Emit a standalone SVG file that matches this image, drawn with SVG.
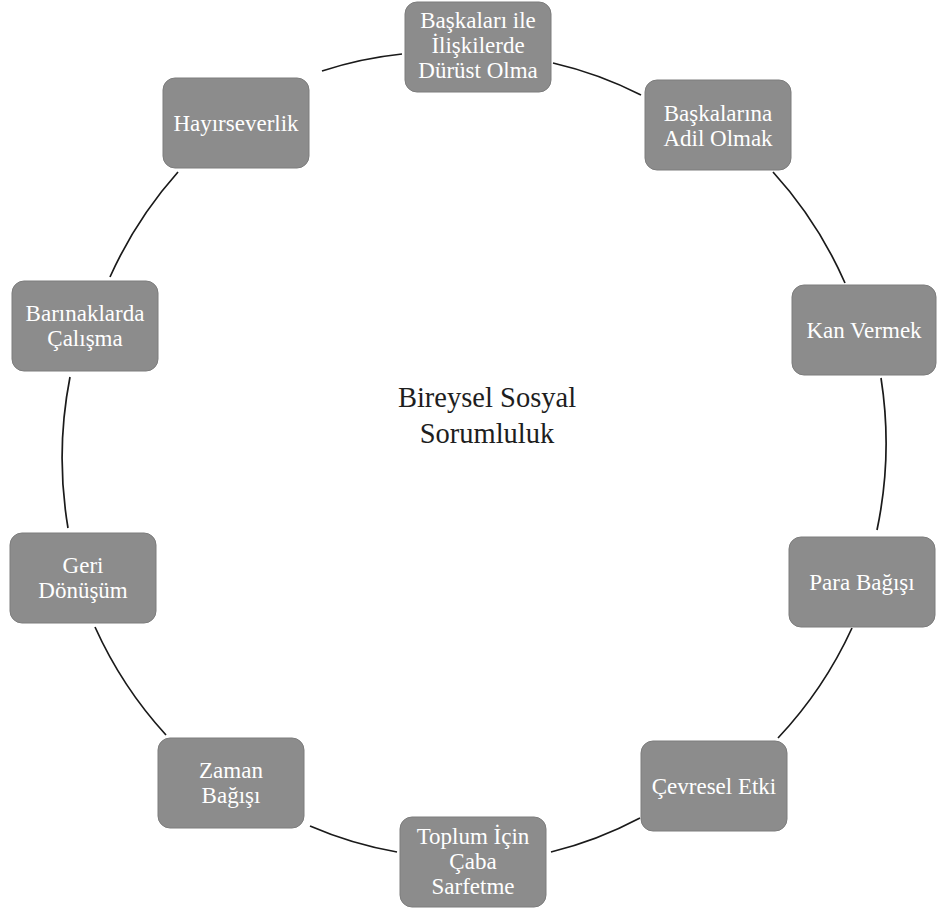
<svg xmlns="http://www.w3.org/2000/svg" width="937" height="913" viewBox="0 0 937 913">
<style>
.box{fill:#8c8c8c;stroke:#7c7c7c;stroke-width:1}
.lbl{font-family:"Liberation Serif","Times New Roman",serif;font-size:23px;fill:#ffffff;text-anchor:middle}
.ctr{font-family:"Liberation Serif","Times New Roman",serif;font-size:28.5px;fill:#1e1e1e;text-anchor:middle}
.arc{fill:none;stroke:#1a1a1a;stroke-width:1.7}
</style>
<rect width="937" height="913" fill="#ffffff"/>
<g id="connectors">
<path class="arc" d="M553,63 A395,408 0 0 1 641,95"/>
<path class="arc" d="M773,172 A395,408 0 0 1 845,283"/>
<path class="arc" d="M881,378 A395,408 0 0 1 877,530"/>
<path class="arc" d="M852,628 A395,408 0 0 1 778,738"/>
<path class="arc" d="M640,818 A395,408 0 0 1 551,852"/>
<path class="arc" d="M397,852 A395,408 0 0 1 310,826"/>
<path class="arc" d="M166,735 A395,408 0 0 1 95,627"/>
<path class="arc" d="M68,528 A395,408 0 0 1 70,377"/>
<path class="arc" d="M110,277 A395,408 0 0 1 178,172"/>
<path class="arc" d="M322,71 A395,408 0 0 1 402,54"/>
</g>
<g id="center">
<text class="ctr" x="487" y="407">Bireysel Sosyal</text>
<text class="ctr" x="487" y="443">Sorumluluk</text>
</g>
<g id="n1">
<rect class="box" x="405" y="2" width="146" height="90" rx="12"/>
<text class="lbl" x="478" y="28">Başkaları ile</text>
<text class="lbl" x="478" y="53">İlişkilerde</text>
<text class="lbl" x="478" y="78">Dürüst Olma</text>
</g>
<g id="n2">
<rect class="box" x="645" y="80" width="146" height="90" rx="12"/>
<text class="lbl" x="718" y="121">Başkalarına</text>
<text class="lbl" x="718" y="146">Adil Olmak</text>
</g>
<g id="n3">
<rect class="box" x="792" y="285" width="144" height="90" rx="12"/>
<text class="lbl" x="864" y="338">Kan Vermek</text>
</g>
<g id="n4">
<rect class="box" x="789" y="537" width="146" height="90" rx="12"/>
<text class="lbl" x="862" y="590">Para Bağışı</text>
</g>
<g id="n5">
<rect class="box" x="641" y="741" width="146" height="90" rx="12"/>
<text class="lbl" x="714" y="794">Çevresel Etki</text>
</g>
<g id="n6">
<rect class="box" x="400" y="817" width="146" height="90" rx="12"/>
<text class="lbl" x="473" y="844">Toplum İçin</text>
<text class="lbl" x="473" y="869">Çaba</text>
<text class="lbl" x="473" y="894">Sarfetme</text>
</g>
<g id="n7">
<rect class="box" x="158" y="738" width="146" height="90" rx="12"/>
<text class="lbl" x="231" y="778">Zaman</text>
<text class="lbl" x="231" y="803">Bağışı</text>
</g>
<g id="n8">
<rect class="box" x="10" y="533" width="146" height="90" rx="12"/>
<text class="lbl" x="83" y="573">Geri</text>
<text class="lbl" x="83" y="598">Dönüşüm</text>
</g>
<g id="n9">
<rect class="box" x="12" y="281" width="146" height="90" rx="12"/>
<text class="lbl" x="85" y="321">Barınaklarda</text>
<text class="lbl" x="85" y="346">Çalışma</text>
</g>
<g id="n10">
<rect class="box" x="163" y="78" width="146" height="90" rx="12"/>
<text class="lbl" x="236" y="131">Hayırseverlik</text>
</g>
</svg>
